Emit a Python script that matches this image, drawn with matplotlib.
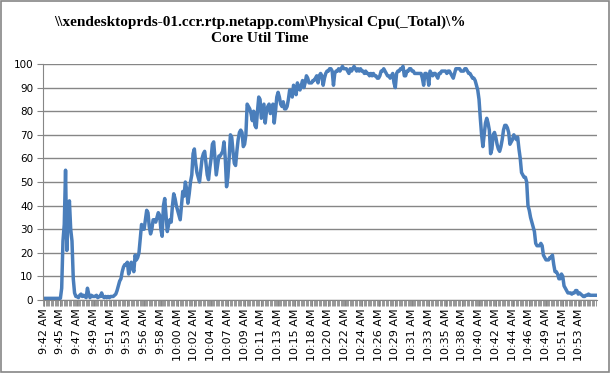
import matplotlib

matplotlib.use("Agg")
import matplotlib.pyplot as plt
from matplotlib.patches import Rectangle
import numpy as np


TITLE = "\\\\xendesktoprds-01.ccr.rtp.netapp.com\\Physical Cpu(_Total)\\%\nCore Util Time"

# one tick label every 13 samples (~10 s per sample)
TICK_LABELS = [
    "9:42 AM", "9:45 AM", "9:47 AM", "9:49 AM", "9:51 AM", "9:53 AM", "9:56 AM",
    "9:58 AM", "10:00 AM", "10:02 AM", "10:04 AM", "10:07 AM", "10:09 AM",
    "10:11 AM", "10:13 AM", "10:15 AM", "10:18 AM", "10:20 AM", "10:22 AM",
    "10:24 AM", "10:26 AM", "10:29 AM", "10:31 AM", "10:33 AM", "10:35 AM",
    "10:38 AM", "10:40 AM", "10:42 AM", "10:44 AM", "10:46 AM", "10:49 AM",
    "10:51 AM", "10:53 AM",
]
LABEL_STEP = 13

# % core util time, rows grouped per tick label
CPU_UTIL = [
    0.7, 0.7, 0.7, 0.7, 0.7, 0.7, 0.7, 0.7, 0.7, 0.7, 0.7, 0.7, 0.7,
    0.7, 5, 25, 32, 55, 21, 35, 42, 30, 25, 9, 3, 1.5,
    1.5, 1, 2, 2.5, 1.5, 2, 1.5, 1, 5, 2.5, 1, 2, 1.5,
    1.5, 1.5, 2, 1, 1.5, 1.5, 3, 1.5, 1, 1.5, 1, 1.5, 1,
    1.5, 1.5, 1.5, 2, 2.5, 4, 6, 8, 9, 12, 14, 15, 15,
    16, 11, 13, 16, 14, 12, 19, 17, 18, 20, 26, 32, 30,
    30, 34, 38, 37, 31, 28, 30, 34, 34, 33, 35, 37, 36,
    30, 27, 40, 43, 36, 29, 32, 34, 33, 40, 45, 43, 40,
    38, 36, 34, 40, 46, 44, 50, 47, 41, 45, 50, 53, 62,
    64, 58, 54, 52, 50, 55, 60, 62, 63, 58, 53, 51, 56,
    60, 66, 67, 60, 53, 57, 61, 61, 62, 63, 67, 60, 48,
    52, 60, 70, 69, 63, 58, 57, 63, 68, 71, 72, 71, 65,
    66, 70, 83, 82, 81, 79, 76, 80, 74, 73, 80, 86, 85,
    77, 80, 83, 75, 80, 82, 83, 79, 81, 83, 75, 80, 86,
    88, 86, 83, 82, 84, 81, 81, 82, 85, 89, 88, 86, 91,
    90, 87, 92, 90, 89, 91, 93, 90, 92, 95, 94, 92, 92,
    92, 93, 93, 94, 95, 92, 95, 96, 95, 91, 94, 96, 97,
    97, 98, 98, 97, 91, 96, 97, 97, 98, 97, 98, 99, 98,
    98, 98, 97, 96, 98, 97, 98, 99, 98, 97, 98, 97, 98,
    97, 97, 96, 97, 96, 96, 95, 96, 95, 96, 95, 95, 94,
    94, 95, 97, 97, 98, 97, 96, 95, 95, 94, 95, 96, 92,
    90, 96, 97, 97, 98, 98, 99, 95, 95, 97, 97, 98, 98,
    97, 97, 96, 96, 96, 96, 96, 96, 94, 91, 96, 96, 95,
    91, 97, 96, 95, 96, 96, 95, 94, 96, 96, 97, 97, 97,
    97, 96, 97, 97, 96, 95, 94, 96, 98, 98, 98, 98, 97,
    97, 97, 98, 98, 97, 96, 96, 95, 94, 94, 93, 91, 89,
    85, 77, 70, 65, 70, 75, 77, 75, 72, 62, 64, 70, 71,
    69, 66, 64, 63, 65, 68, 72, 74, 74, 73, 71, 66, 67,
    68, 70, 69, 68, 69, 64, 60, 54, 53, 52, 52, 50, 40,
    38, 35, 33, 31, 29, 24, 23, 23, 23, 24, 23, 19, 18,
    17, 17, 17, 18, 18, 19, 15, 12, 12, 11, 9, 9, 11,
    10, 6, 5, 4, 3, 3, 3, 2.5, 3, 3, 4, 4, 2.5,
    3, 2.5, 2, 1.5, 1.5, 2, 2, 2.5, 2, 2, 2, 2, 2, 2,
]

GRID = "#868686"
LINE = "#4a7ebb"


def main():
    values = np.array(CPU_UTIL)
    x = np.arange(len(values))

    fig = plt.figure(figsize=(6.10, 3.73), dpi=100)
    fig.patches.append(Rectangle((0.001, 0.002), 0.997, 0.995, transform=fig.transFigure,
                                 fill=False, edgecolor=GRID, linewidth=1.2))
    ax = fig.add_axes([0.0705, 0.1957, 0.908, 0.6327])

    ax.plot(x, values, color=LINE, linewidth=2.5, solid_joinstyle="round")

    ax.set_xlim(-0.5, len(values) - 0.5)
    ax.set_ylim(0, 100)
    ax.set_yticks(np.arange(0, 101, 10))
    ax.yaxis.grid(True, color=GRID, linewidth=1)
    ax.set_axisbelow(True)

    ax.set_xticks(np.arange(len(TICK_LABELS)) * LABEL_STEP)
    ax.set_xticklabels(TICK_LABELS, rotation=90, fontsize=8)
    ax.set_xticks(np.arange(len(values)) - 0.5, minor=True)
    ax.tick_params(axis="x", which="both", length=4, color=GRID, pad=2)
    ax.tick_params(axis="y", length=4, color=GRID, labelsize=7.5, pad=3)

    for side in ("top", "right"):
        ax.spines[side].set_visible(False)
    for side in ("left", "bottom"):
        ax.spines[side].set_color(GRID)

    fig.text(0.426, 0.918, TITLE, ha="center", va="center", fontsize=11,
             fontweight="bold", family="Liberation Serif", linespacing=1.3)

    fig.savefig("out.png", dpi=100)
    plt.close(fig)


if __name__ == "__main__":
    main()
